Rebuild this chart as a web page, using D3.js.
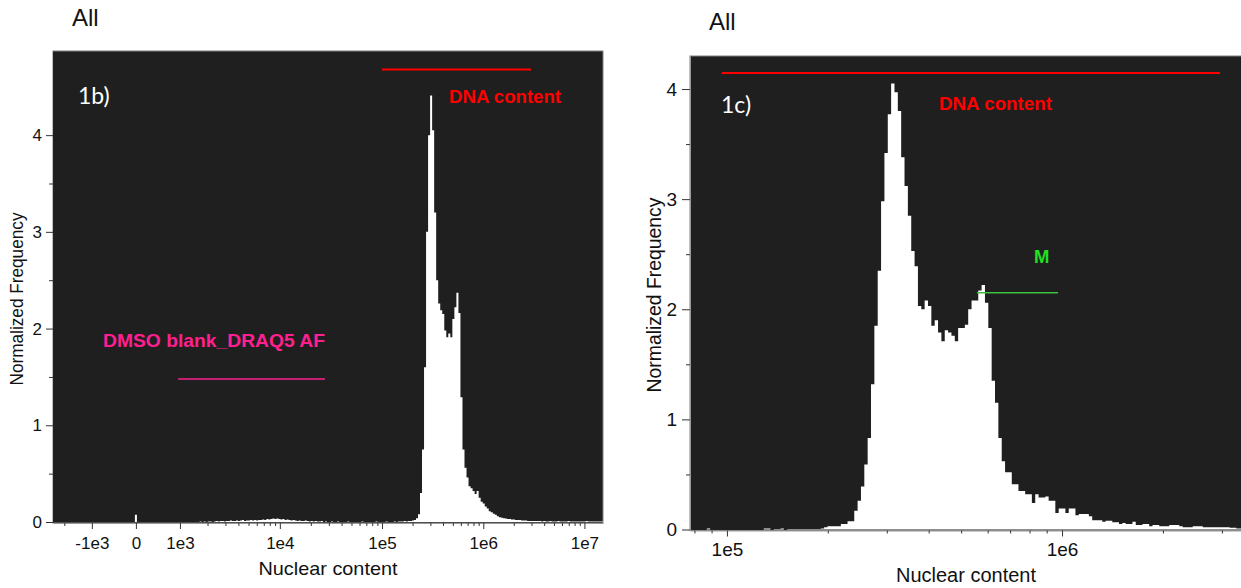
<!DOCTYPE html>
<html>
<head>
<meta charset="utf-8">
<script src="https://cdn.jsdelivr.net/npm/d3@7"></script>
<style>
  html, body { margin: 0; padding: 0; background: #fff; }
  svg { display: block; }
  .tick text { font-family: "Liberation Sans", Arial, sans-serif; fill: #111; }
</style>
</head>
<body>
<svg id="chart" width="1241" height="588"></svg>
<script>
// ---------------- data ----------------
const yTicks = [0, 1, 2, 3, 4];
const yMinorTicks = [0.5, 1.5, 2.5, 3.5];

// 1b) logicle-scaled axis
const leftTickValues = [-1e3, 0, 1e3, 1e4, 1e5, 1e6, 1e7];
const leftTickLabels = ["-1e3", "0", "1e3", "1e4", "1e5", "1e6", "1e7"];
const leftMinorTicks = [-2e3,
  2e3, 3e3, 4e3, 5e3, 6e3, 7e3, 8e3, 9e3,
  2e4, 3e4, 4e4, 5e4, 6e4, 7e4, 8e4, 9e4,
  2e5, 3e5, 4e5, 5e5, 6e5, 7e5, 8e5, 9e5,
  2e6, 3e6, 4e6, 5e6, 6e6, 7e6, 8e6, 9e6];

// 1c) log-scaled axis
const rightTickValues = [1e5, 1e6];
const rightTickLabels = ["1e5", "1e6"];
const rightMinorTicks = [8e4, 9e4, 2e5, 3e5, 4e5, 5e5, 6e5, 7e5, 8e5, 9e5, 2e6, 3e6];

// 1b) histogram: bins of equal width in logicle display units (decades)
const leftBinStart = -0.01;
const leftBinWidth = 0.02;
const leftFreq = [
  0.075,0,0,0,0,0,0,0,0,0, 0,0,0,0,0,0,0,0,0,0,
  0,0,0,0,0,0,0,0,0,0, 0,0,0.005,0,0.005,0,0.005,0.005,0,0.005,
  0.01,0.005,0.01,0.01,0.005,0.01,0.01,0.015,0.01,0.01, 0.015,0.01,0.015,0.02,0.01,0.015,0.015,0.02,0.015,0.02,
  0.015,0.02,0.02,0.025,0.02,0.03,0.025,0.03,0.035,0.03, 0.035,0.03,0.025,0.03,0.02,0.025,0.02,0.015,0.02,0.015,
  0.01,0.015,0.01,0.01,0.015,0.01,0.005,0.01,0.005,0.01, 0.005,0.005,0.01,0,0.005,0,0,0.005,0,0,
  0.005,0,0,0,0,0.005,0,0,0,0, 0,0,0.005,0,0,0,0,0,0,0.005,
  0,0,0,0,0.005,0,0,0,0.005,0, 0.005,0.005,0.005,0.01,0.005,0.01,0.01,0.015,0.02,0.04,
  0.08,0.3,0.75,1.6,3.0,4.0,4.41,4.05,3.2,2.5, 2.26,2.19,2.15,1.98,1.91,1.95,1.91,2.1,2.22,2.37,
  2.16,1.29,0.75,0.56,0.46,0.37,0.35,0.32,0.29,0.32, 0.25,0.21,0.19,0.16,0.14,0.11,0.1,0.085,0.075,0.06,
  0.05,0.045,0.04,0.035,0.03,0.03,0.025,0.025,0.02,0.02, 0.02,0.015,0.015,0.015,0.01,0.01,0.01,0.01,0.01,0.01,
  0.01,0.005,0.01,0.005,0.005,0.01,0.005,0.005,0.005,0.01, 0.005,0.005,0.005,0.005,0.01,0.005,0.005,0.005,0.005,0.005,
  0.005,0.005,0.005,0.01,0.005,0.005,0.005,0.005,0.005,0.005, 0.005,0.005
];

// 1c) histogram: bins of equal width in log10 units
const rightBinLogStart = 4.88;
const rightBinLogWidth = 0.01;
const rightFreq = [
  0,0,0,0,0,0,0.01,0,0,0, 0,0,0,0,0,0,0,0,0,0,
  0,0,0,0.01,0.01,0,0.005,0.005,0.01,0, 0.005,0.005,0.005,0.005,0.005,0.005,0.005,0.005,0.005,0.005,
  0.01,0.02,0.03,0.03,0.03,0.03,0.05,0.05,0.075,0.075, 0.17,0.26,0.39,0.59,0.83,1.32,1.85,2.35,2.98,3.42,
  3.77,4.05,3.97,3.80,3.38,3.12,2.85,2.53,2.39,2.03, 2.0,2.08,2.03,1.85,1.90,1.79,1.71,1.81,1.79,1.76,
  1.71,1.83,1.83,1.86,2.0,2.08,2.08,2.17,2.22,2.06, 1.83,1.35,1.15,0.83,0.62,0.52,0.52,0.41,0.41,0.35,
  0.35,0.32,0.32,0.24,0.32,0.29,0.29,0.30,0.26,0.26, 0.15,0.19,0.19,0.15,0.19,0.19,0.13,0.14,0.14,0.14,
  0.12,0.085,0.085,0.085,0.07,0.08,0.08,0.065,0.065,0.05, 0.06,0.05,0.05,0.07,0.04,0.04,0.05,0.05,0.03,0.04,
  0.04,0.03,0.03,0.03,0.04,0.04,0.04,0.03,0.02,0.02, 0.02,0.03,0.03,0.03,0.02,0.02,0.02,0.02,0.02,0.02,
  0.02,0.02,0.015,0.015,0.01,0.01
];

// gates: [from, to] in nuclear content units, drawn at a frequency level
const leftGates = [
  { label: "DNA content", range: [1e5, 2.97e6], level: 4.68, color: "#ff0000" },
  { label: "DMSO blank_DRAQ5 AF", range: [950, 2.75e4], level: 1.478, color: "#ff1f8f" }
];
const rightGates = [
  { label: "DNA content", range: [9.66e4, 2.96e6], level: 4.145, color: "#ff0000" },
  { label: "M", range: [5.57e5, 9.73e5], level: 2.15, color: "#3cc23c" }
];

// ---------------- logicle transform ----------------
const LOGICLE_A = 366.4, LOGICLE_P = 1.4;
function logicleValue(z) {          // display decades -> data value
  const s = Math.abs(z), p2 = LOGICLE_P * LOGICLE_P;
  const v = LOGICLE_A * (Math.pow(10, s) - p2 * Math.pow(10, -s / LOGICLE_P) + p2 - 1);
  return z < 0 ? -v : v;
}
function logicleDisplay(v) {        // data value -> display decades
  let lo = -4, hi = 8;
  for (let i = 0; i < 80; i++) {
    const mid = (lo + hi) / 2;
    if (logicleValue(mid) < v) lo = mid; else hi = mid;
  }
  return (lo + hi) / 2;
}

// ---------------- drawing ----------------
const svg = d3.select("#chart");
const FONT = '"Liberation Sans", Arial, sans-serif';

function frame(g, x0, y0, x1, y1, id) {
  g.append("clipPath").attr("id", id)
    .append("rect").attr("x", x0).attr("y", y0).attr("width", x1 - x0).attr("height", y1 - y0);
  g.append("rect").attr("x", x0).attr("y", y0).attr("width", x1 - x0).attr("height", y1 - y0)
    .attr("fill", "#1f1f1f").attr("stroke", "#808080").attr("stroke-width", 1);
}

function styleAxis(sel, color) {
  sel.select(".domain").attr("stroke", color);
  sel.selectAll(".tick line").attr("stroke", "#333");
}

// ===== 1b) =====
const L = { x0: 53, x1: 603, y0: 51, y1: 523 };
const xLeft = d3.scaleLinear().domain([-0.82, 4.62]).range([L.x0, L.x1]);
const yLeft = d3.scaleLinear().domain([0, 4.87]).range([522, L.y0]);

const gL = svg.append("g");
frame(gL, L.x0, L.y0, L.x1, L.y1, "clipL");

const leftPts = leftFreq.map((f, i) => ({ z: leftBinStart + i * leftBinWidth, f }));
leftPts.push({ z: leftBinStart + leftFreq.length * leftBinWidth, f: leftFreq[leftFreq.length - 1] });
gL.append("path").datum(leftPts)
  .attr("clip-path", "url(#clipL)")
  .attr("fill", "#ffffff")
  .attr("d", d3.area().curve(d3.curveStepAfter)
    .x(d => xLeft(d.z)).y0(yLeft(0)).y1(d => yLeft(d.f)));

// axes
const axLx = gL.append("g").attr("transform", `translate(0,${L.y1})`)
  .call(d3.axisBottom(xLeft)
    .tickValues(leftTickValues.map(logicleDisplay))
    .tickFormat((d, i) => leftTickLabels[i])
    .tickSize(6).tickPadding(8).tickSizeOuter(0));
axLx.selectAll("text").style("font-size", "17px");
styleAxis(axLx, "#9a9a9a");
const axLxm = gL.append("g").attr("transform", `translate(0,${L.y1})`)
  .call(d3.axisBottom(xLeft).tickValues(leftMinorTicks.map(logicleDisplay))
    .tickFormat("").tickSize(3).tickSizeOuter(0));
axLxm.select(".domain").remove();
axLxm.selectAll(".tick line").attr("stroke", "#333");

const axLy = gL.append("g").attr("transform", `translate(${L.x0},0)`)
  .call(d3.axisLeft(yLeft).tickValues(yTicks).tickFormat(d3.format("d"))
    .tickSize(7).tickPadding(4).tickSizeOuter(0));
axLy.selectAll("text").style("font-size", "17px");
styleAxis(axLy, "#222");
const axLym = gL.append("g").attr("transform", `translate(${L.x0},0)`)
  .call(d3.axisLeft(yLeft).tickValues(yMinorTicks).tickFormat("").tickSize(4).tickSizeOuter(0));
axLym.select(".domain").remove();
axLym.selectAll(".tick line").attr("stroke", "#333");

// gates
leftGates.forEach(g => {
  gL.append("line")
    .attr("x1", xLeft(logicleDisplay(g.range[0]))).attr("x2", xLeft(logicleDisplay(g.range[1])))
    .attr("y1", yLeft(g.level)).attr("y2", yLeft(g.level))
    .attr("stroke", g.color).attr("stroke-width", g.label === "DNA content" ? 2 : 1.6);
});
gL.append("text").attr("x", 449).attr("y", 103).text("DNA content")
  .attr("font-family", FONT).attr("font-weight", "bold").attr("font-size", 18.5)
  .attr("textLength", 112).attr("lengthAdjust", "spacingAndGlyphs").attr("fill", "#ff0000");
gL.append("text").attr("x", 103).attr("y", 347).text("DMSO blank_DRAQ5 AF")
  .attr("font-family", FONT).attr("font-weight", "bold").attr("font-size", 19)
  .attr("textLength", 222).attr("lengthAdjust", "spacingAndGlyphs").attr("fill", "#ff1f8f");

gL.append("text").attr("x", 78).attr("y", 104).text("1b)")
  .attr("font-family", "Lato, 'Open Sans', sans-serif").attr("font-size", 23).attr("fill", "#ffffff");

// titles
gL.append("text").attr("x", 72).attr("y", 26).text("All")
  .attr("font-family", FONT).attr("font-size", 24).attr("fill", "#111");
gL.append("text").attr("x", 328).attr("y", 575).attr("text-anchor", "middle").text("Nuclear content")
  .attr("font-family", FONT).attr("font-size", 19).attr("fill", "#111")
  .attr("textLength", 139).attr("lengthAdjust", "spacingAndGlyphs");
gL.append("text").attr("transform", "translate(23,299) rotate(-90)").attr("text-anchor", "middle")
  .text("Normalized Frequency")
  .attr("font-family", FONT).attr("font-size", 18.5).attr("fill", "#111")
  .attr("textLength", 173).attr("lengthAdjust", "spacingAndGlyphs");

// ===== 1c) =====
const R = { x0: 690, x1: 1260, y0: 56, y1: 530.5 };
const xRight = d3.scaleLog().domain([7.76e4, 3.42e6]).range([690, 1241]);
const yRight = d3.scaleLinear().domain([0, 4.30]).range([529.5, R.y0]);

const gR = svg.append("g");
frame(gR, R.x0, R.y0, R.x1, R.y1, "clipR");

const rightPts = rightFreq.map((f, i) => ({ v: Math.pow(10, rightBinLogStart + i * rightBinLogWidth), f }));
rightPts.push({ v: Math.pow(10, rightBinLogStart + rightFreq.length * rightBinLogWidth), f: rightFreq[rightFreq.length - 1] });
gR.append("path").datum(rightPts)
  .attr("clip-path", "url(#clipR)")
  .attr("fill", "#ffffff")
  .attr("d", d3.area().curve(d3.curveStepAfter)
    .x(d => xRight(d.v)).y0(yRight(0)).y1(d => yRight(d.f)));

const axRx = gR.append("g").attr("transform", `translate(0,${R.y1})`)
  .call(d3.axisBottom(xRight).tickValues(rightTickValues)
    .tickFormat((d, i) => rightTickLabels[i]).tickSize(6).tickPadding(6).tickSizeOuter(0));
axRx.selectAll("text").style("font-size", "19px");
styleAxis(axRx, "#9a9a9a");
const axRxm = gR.append("g").attr("transform", `translate(0,${R.y1})`)
  .call(d3.axisBottom(xRight).tickValues(rightMinorTicks).tickFormat("").tickSize(3).tickSizeOuter(0));
axRxm.select(".domain").remove();
axRxm.selectAll(".tick line").attr("stroke", "#333");

const axRy = gR.append("g").attr("transform", `translate(${R.x0},0)`)
  .call(d3.axisLeft(yRight).tickValues(yTicks).tickFormat(d3.format("d"))
    .tickSize(8).tickPadding(5).tickSizeOuter(0));
axRy.selectAll("text").style("font-size", "19px");
styleAxis(axRy, "#9a9a9a");
const axRym = gR.append("g").attr("transform", `translate(${R.x0},0)`)
  .call(d3.axisLeft(yRight).tickValues(yMinorTicks).tickFormat("").tickSize(4).tickSizeOuter(0));
axRym.select(".domain").remove();
axRym.selectAll(".tick line").attr("stroke", "#333");

rightGates.forEach(g => {
  gR.append("line")
    .attr("x1", xRight(g.range[0])).attr("x2", xRight(g.range[1]))
    .attr("y1", yRight(g.level)).attr("y2", yRight(g.level))
    .attr("stroke", g.color).attr("stroke-width", g.label === "M" ? 1.4 : 2);
});
gR.append("text").attr("x", 939).attr("y", 110).text("DNA content")
  .attr("font-family", FONT).attr("font-weight", "bold").attr("font-size", 18.5)
  .attr("textLength", 113).attr("lengthAdjust", "spacingAndGlyphs").attr("fill", "#ff0000");
gR.append("text").attr("x", 1034).attr("y", 263).text("M")
  .attr("font-family", FONT).attr("font-weight", "bold").attr("font-size", 18.5).attr("fill", "#22e022");

gR.append("text").attr("x", 721).attr("y", 113).text("1c)")
  .attr("font-family", "Lato, 'Open Sans', sans-serif").attr("font-size", 23).attr("fill", "#ffffff");

gR.append("text").attr("x", 709).attr("y", 30).text("All")
  .attr("font-family", FONT).attr("font-size", 24).attr("fill", "#111");
gR.append("text").attr("x", 966).attr("y", 582).attr("text-anchor", "middle").text("Nuclear content")
  .attr("font-family", FONT).attr("font-size", 20).attr("fill", "#111")
  .attr("textLength", 140).attr("lengthAdjust", "spacingAndGlyphs");
gR.append("text").attr("transform", "translate(661,295) rotate(-90)").attr("text-anchor", "middle")
  .text("Normalized Frequency")
  .attr("font-family", FONT).attr("font-size", 19.5).attr("fill", "#111")
  .attr("textLength", 195).attr("lengthAdjust", "spacingAndGlyphs");
</script>
</body>
</html>
